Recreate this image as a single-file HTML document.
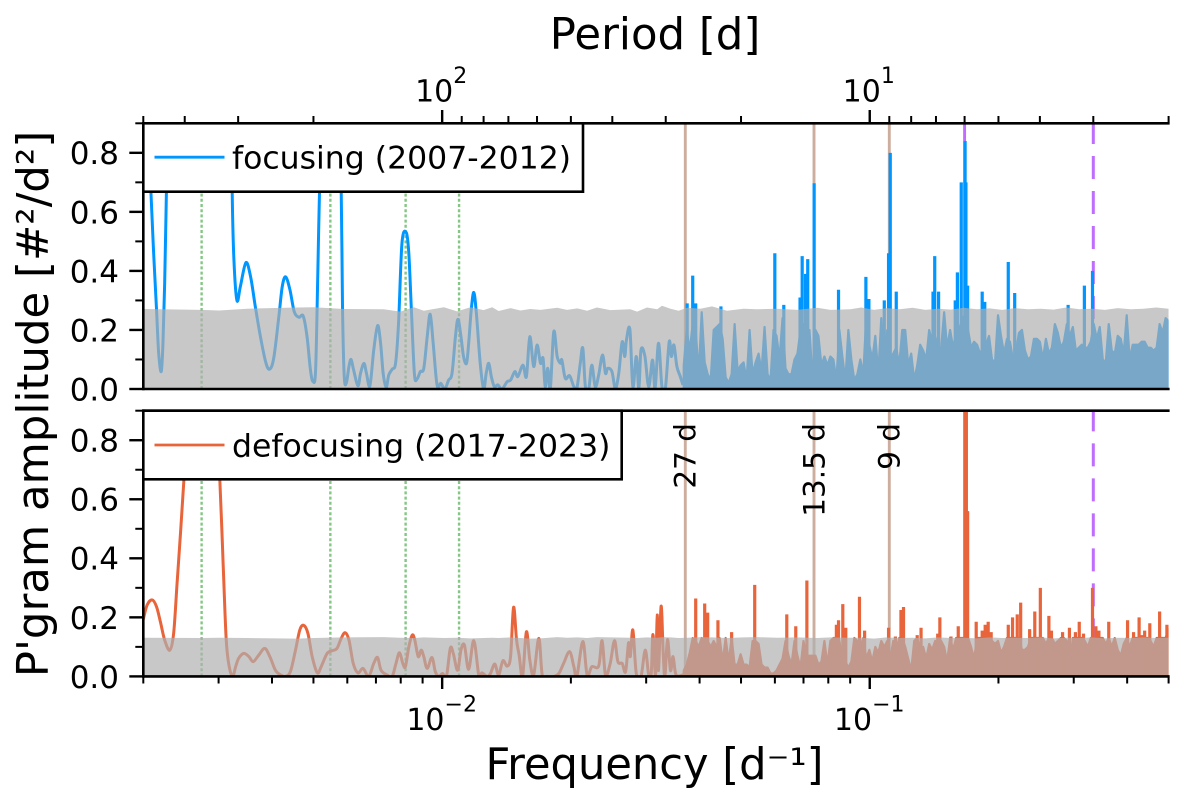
<!DOCTYPE html>
<html lang="en">
<head>
<meta charset="utf-8">
<title>Periodogram</title>
<style>
html,body{margin:0;padding:0;background:#fff;}
svg{display:block;font-family:"DejaVu Sans","Liberation Sans",sans-serif;}
</style>
</head>
<body>
<svg id="chart" xmlns="http://www.w3.org/2000/svg" width="1200" height="800" viewBox="0 0 1200 800">
  <defs>
    <clipPath id="clip-top"><rect x="143.3" y="123.3" width="1025.3" height="265.7"></rect></clipPath>
    <clipPath id="clip-bottom"><rect x="143.3" y="410.7" width="1025.3" height="265.7"></rect></clipPath>
  </defs>
  <rect width="1200" height="800" fill="#fff"></rect>
  <g id="top-panel"></g>
  <g id="bottom-panel"></g>
  <g id="axes"></g>

  <g>
    <rect x="143.3" y="123.3" width="439.7" height="68.4" fill="#fff" stroke="#000" stroke-width="2.6"></rect>
    <line x1="154.5" x2="224.5" y1="157.2" y2="157.2" stroke="#0096ff" stroke-width="2.8"></line>
    <text x="232" y="168.7" font-size="31.5">focusing (2007-2012)</text>
  </g>
  <g>
    <rect x="143.3" y="410.7" width="478.4" height="68.6" fill="#fff" stroke="#000" stroke-width="2.6"></rect>
    <line x1="154.5" x2="224.5" y1="445" y2="445" stroke="#e8643a" stroke-width="2.8"></line>
    <text x="232" y="456.7" font-size="31.5">defocusing (2017-2023)</text>
  </g>

  <text font-size="29.5" text-anchor="end" transform="translate(695.5,423) rotate(-90)">27 d</text>
  <text font-size="29.5" text-anchor="end" transform="translate(824.5,423) rotate(-90)">13.5 d</text>
  <text font-size="29.5" text-anchor="end" transform="translate(899.5,423) rotate(-90)">9 d</text>

  <text x="655" y="49" font-size="43.4" text-anchor="middle">Period [d]</text>
  <text x="654.5" y="779" font-size="43.2" text-anchor="middle">Frequency [d⁻¹]</text>
  <text font-size="43.4" text-anchor="middle" transform="translate(48,404) rotate(-90)">P'gram amplitude [#²/d²]</text>
</svg>
<script>
// ---- axis ticks ----
const yMajorTicks = [0, 0.2, 0.4, 0.6, 0.8];
const yMinorTicks = [0.1, 0.3, 0.5, 0.7, 0.9];
const yTickLabels = ['0.0', '0.2', '0.4', '0.6', '0.8'];
const freqMajorTicks = [0.01, 0.1];
const freqTickExponents = ['−2', '−1'];
const freqMinorTicks = [0.002,0.003,0.004,0.005,0.006,0.007,0.008,0.009,0.02,0.03,0.04,0.05,0.06,0.07,0.08,0.09,0.2,0.3,0.4,0.5];
const periodMajorTicks = [100, 10];
const periodTickExponents = ['2', '1'];
const periodMinorTicks = [500,400,300,200,90,80,70,60,50,40,30,20,9,8,7,6,5,4,3,2];

// ---- reference periods (days) ----
const annualPeriods = [365.25, 182.6, 121.75, 91.3];
const rotationPeriods = [27, 13.5, 9];
const solidHarmonicPeriods = [6];
const dashedHarmonicPeriods = [3];

// ---- focusing: resolved low-frequency curve ----
const focusingLowLogFreq = [-2.699,-2.681,-2.674,-2.668,-2.663,-2.657,-2.653,-2.649,-2.645,-2.641,-2.635,-2.573,-2.495,-2.491,-2.487,-2.480,-2.472,-2.459,-2.448,-2.437,-2.425,-2.413,-2.404,-2.394,-2.382,-2.374,-2.366,-2.356,-2.346,-2.335,-2.325,-2.316,-2.308,-2.302,-2.296,-2.291,-2.287,-2.281,-2.261,-2.242,-2.236,-2.233,-2.229,-2.224,-2.218,-2.213,-2.207,-2.197,-2.191,-2.183,-2.177,-2.169,-2.160,-2.151,-2.144,-2.138,-2.131,-2.125,-2.117,-2.109,-2.102,-2.094,-2.084,-2.078,-2.072,-2.065,-2.059,-2.051,-2.043,-2.035,-2.028,-2.021,-2.012,-2.003,-1.994,-1.985,-1.977,-1.969,-1.963,-1.956,-1.950,-1.943,-1.938,-1.932,-1.926,-1.920,-1.911,-1.903,-1.897,-1.891,-1.885,-1.878,-1.870,-1.860,-1.848,-1.840,-1.830,-1.823,-1.811,-1.803,-1.795,-1.786,-1.778,-1.770,-1.764,-1.759,-1.753,-1.747,-1.739,-1.731,-1.723,-1.720,-1.712,-1.702,-1.692,-1.685,-1.677,-1.671,-1.665,-1.657,-1.650,-1.642,-1.634,-1.625,-1.618,-1.613,-1.603,-1.595,-1.587,-1.579,-1.573,-1.569,-1.561,-1.554,-1.546,-1.540,-1.535,-1.526,-1.517,-1.508,-1.502,-1.494,-1.486,-1.478,-1.469,-1.464,-1.458,-1.451,-1.443,-1.437];
const focusingLowAmp = [1.30,0.663,0.437,0.268,0.121,0.059,0.155,0.358,0.663,0.946,1.20,1.50,1.20,0.663,0.437,0.300,0.347,0.428,0.380,0.279,0.177,0.093,0.067,0.104,0.245,0.347,0.380,0.336,0.262,0.243,0.247,0.177,0.064,0.025,0.064,0.380,0.660,0.950,1.40,0.950,0.660,0.268,0.042,0.021,0.076,0.100,0.064,0.011,0.053,0.087,0.053,0.011,0.132,0.215,0.155,0.053,0.005,0.047,0.067,0.087,0.223,0.494,0.530,0.460,0.268,0.053,0.033,0.059,0.070,0.177,0.253,0.155,0.014,0.019,0.000,0.030,0.053,0.177,0.236,0.177,0.110,0.087,0.155,0.268,0.327,0.256,0.087,0.000,0.053,0.087,0.042,0.008,0.014,0.000,0.025,0.030,0.059,0.042,0.081,0.042,0.177,0.076,0.149,0.087,0.104,0.008,0.070,0.002,0.194,0.110,0.087,0.098,0.036,0.045,0.008,0.002,0.087,0.138,0.008,0.002,0.081,0.008,0.047,0.115,0.053,0.070,0.059,0.002,0.053,0.160,0.110,0.166,0.202,0.008,0.110,0.002,0.132,0.112,0.008,0.098,0.002,0.155,0.008,0.002,0.160,0.110,0.149,0.076,0.042,0.014];

// ---- defocusing: resolved low-frequency curve ----
const defocusingLowLogFreq = [-2.699,-2.690,-2.678,-2.668,-2.659,-2.649,-2.637,-2.628,-2.620,-2.612,-2.604,-2.597,-2.581,-2.563,-2.542,-2.528,-2.520,-2.512,-2.505,-2.498,-2.490,-2.483,-2.476,-2.464,-2.452,-2.442,-2.429,-2.415,-2.403,-2.390,-2.378,-2.367,-2.355,-2.343,-2.333,-2.324,-2.314,-2.304,-2.292,-2.283,-2.269,-2.257,-2.246,-2.236,-2.227,-2.218,-2.208,-2.197,-2.185,-2.172,-2.160,-2.151,-2.143,-2.129,-2.117,-2.108,-2.100,-2.092,-2.086,-2.078,-2.070,-2.064,-2.056,-2.049,-2.043,-2.035,-2.024,-2.016,-2.008,-1.999,-1.990,-1.981,-1.974,-1.964,-1.956,-1.948,-1.938,-1.926,-1.914,-1.907,-1.895,-1.887,-1.877,-1.868,-1.858,-1.848,-1.840,-1.833,-1.826,-1.820,-1.812,-1.803,-1.795,-1.786,-1.774,-1.766,-1.755,-1.739,-1.727,-1.716,-1.702,-1.692,-1.685,-1.671,-1.661,-1.650,-1.634,-1.626,-1.618,-1.607,-1.597,-1.589,-1.579,-1.571,-1.564,-1.560,-1.554,-1.546,-1.535,-1.525,-1.517,-1.511,-1.507,-1.501,-1.497,-1.494,-1.488,-1.483,-1.479,-1.473,-1.466,-1.460,-1.453,-1.437];
const defocusingLowAmp = [0.193,0.242,0.259,0.236,0.185,0.123,0.089,0.146,0.315,0.485,0.666,0.820,0.990,1.050,0.990,0.820,0.666,0.372,0.123,0.033,0.000,0.033,0.061,0.078,0.067,0.050,0.072,0.095,0.067,0.021,0.005,0.000,0.016,0.089,0.157,0.173,0.146,0.067,0.012,0.033,0.078,0.087,0.095,0.129,0.148,0.123,0.044,0.012,0.027,0.000,0.044,0.064,0.021,0.005,0.000,0.044,0.080,0.044,0.033,0.100,0.140,0.123,0.067,0.089,0.067,0.027,0.064,0.016,0.000,0.010,0.000,0.095,0.078,0.021,0.090,0.106,0.024,0.121,0.000,0.012,0.000,0.010,0.042,0.005,0.053,0.035,0.067,0.234,0.123,0.072,0.000,0.151,0.055,0.005,0.129,0.005,0.000,0.000,0.010,0.044,0.084,0.033,0.000,0.118,0.005,0.033,0.035,0.121,0.005,0.044,0.121,0.050,0.044,0.016,0.114,0.067,0.157,0.010,0.000,0.089,0.005,0.010,0.142,0.005,0.208,0.020,0.238,0.077,0.000,0.125,0.020,0.067,0.005,0.005];

// ---- densely sampled high-frequency band (shared frequency samples) ----
const denseLogFreq = [
-1.435,-1.428,-1.421,-1.414,-1.407,-1.400,-1.393,-1.386,-1.379,-1.372,
-1.365,-1.358,-1.351,-1.344,-1.337,-1.330,-1.323,-1.316,-1.309,-1.302,
-1.295,-1.288,-1.281,-1.274,-1.267,-1.260,-1.253,-1.246,-1.239,-1.232,
-1.225,-1.218,-1.211,-1.204,-1.197,-1.190,-1.183,-1.176,-1.169,-1.162,
-1.155,-1.148,-1.141,-1.134,-1.127,-1.120,-1.113,-1.106,-1.099,-1.092,
-1.085,-1.078,-1.071,-1.064,-1.057,-1.050,-1.043,-1.036,-1.029,-1.022,
-1.015,-1.008,-1.001,-0.994,-0.987,-0.980,-0.973,-0.966,-0.959,-0.952,
-0.945,-0.938,-0.931,-0.924,-0.917,-0.910,-0.903,-0.896,-0.889,-0.882,
-0.875,-0.868,-0.861,-0.854,-0.847,-0.840,-0.833,-0.826,-0.819,-0.812,
-0.805,-0.798,-0.791,-0.784,-0.777,-0.770,-0.763,-0.756,-0.749,-0.742,
-0.735,-0.728,-0.721,-0.714,-0.707,-0.700,-0.693,-0.686,-0.679,-0.672,
-0.665,-0.658,-0.651,-0.644,-0.637,-0.630,-0.623,-0.616,-0.609,-0.602,
-0.595,-0.588,-0.581,-0.574,-0.567,-0.560,-0.553,-0.546,-0.539,-0.532,
-0.525,-0.518,-0.511,-0.504,-0.497,-0.490,-0.483,-0.476,-0.469,-0.462,
-0.455,-0.448,-0.441,-0.434,-0.427,-0.420,-0.413,-0.406,-0.399,-0.392,
-0.385,-0.378,-0.371,-0.364,-0.357,-0.350,-0.343,-0.336,-0.329,-0.322,
-0.315,-0.308,-0.301];
const focusingDenseAmp = [
0.08,0.20,0.13,0.22,0.20,0.05,0.26,0.09,0.05,0.03,
0.20,0.21,0.22,0.17,0.04,0.02,0.05,0.22,0.06,0.08,
0.09,0.03,0.20,0.05,0.09,0.12,0.06,0.21,0.05,0.03,
0.20,0.18,0.10,0.24,0.07,0.05,0.05,0.10,0.12,0.20,
0.22,0.20,0.20,0.04,0.20,0.18,0.08,0.11,0.08,0.11,
0.10,0.03,0.20,0.11,0.03,0.20,0.10,0.03,0.05,
0.10,0.05,0.25,0.15,0.10,0.18,0.05,0.24,0.10,0.20,0.10,0.12,0.14,0.08,0.20,0.20,0.08,0.12,0.03,0.08,0.15,0.13,0.10,0.20,0.16,0.18,0.14,0.14,0.26,0.14,0.20,0.14,0.19,0.20,0.24,0.25,0.20,0.14,0.16,0.15,0.12,0.14,0.15,0.18,0.10,0.09,0.25,0.18,0.12,0.17,0.16,0.10,0.13,0.19,0.20,0.13,0.10,0.11,0.17,0.17,0.16,0.10,0.17,0.12,0.14,0.22,0.19,0.14,0.16,0.22,0.18,0.21,0.13,0.14,0.15,0.14,0.14,0.16,0.22,0.17,0.21,0.10,0.09,0.22,0.13,0.12,0.18,0.17,0.12,0.25,0.10,0.15,0.15,0.15,0.16,0.16,0.14,0.14,0.13,0.14,0.22,0.19,0.24,0.23];
const defocusingDenseAmp = [
0.02,0.04,0.08,0.13,0.12,0.10,0.13,0.11,0.12,0.10,
0.12,0.10,0.13,0.05,0.13,0.05,0.13,0.04,0.04,0.075,
0.04,0.04,0.03,0.12,0.12,0.11,0.04,0.03,0.03,0.01,
0.01,0.02,0.04,0.06,0.12,0.07,0.04,0.12,0.07,0.03,
0.12,0.07,0.07,0.07,0.07,0.04,0.05,0.12,0.04,0.12,
0.13,0.13,0.12,0.06,0.05,0.03,0.05,0.13,0.12,
0.10,0.13,0.06,0.09,0.05,0.10,0.08,0.12,0.10,0.12,0.06,0.12,0.09,0.13,0.13,0.10,0.06,0.02,0.12,0.13,0.09,0.10,0.06,0.11,0.09,0.12,0.12,0.12,0.10,0.05,0.13,0.09,0.13,0.13,0.13,0.13,0.13,0.10,0.06,0.13,0.13,0.13,0.13,0.13,0.12,0.11,0.12,0.08,0.10,0.13,0.13,0.13,0.13,0.13,0.09,0.09,0.10,0.13,0.13,0.13,0.13,0.13,0.11,0.13,0.13,0.11,0.12,0.13,0.13,0.12,0.04,0.13,0.13,0.13,0.13,0.12,0.10,0.13,0.13,0.13,0.13,0.13,0.11,0.13,0.10,0.13,0.09,0.07,0.11,0.13,0.10,0.13,0.13,0.13,0.13,0.13,0.13,0.12,0.10,0.13,0.13,0.13,0.13,0.16];

// ---- isolated peaks ----
const focusingPeakLogFreq = [-1.427,-1.414,-1.407,-1.348,-1.222,-1.201,-1.163,-1.158,-1.150,-1.145,-1.130,-1.073,-1.009,-1.002,-0.966,-0.956,-0.952,-0.938,-0.852,-0.848,-0.839,-0.800,-0.795,-0.786,-0.777,-0.775,-0.771,-0.737,-0.731,-0.676,-0.661,-0.536,-0.498,-0.479];
const focusingPeakAmp = [0.29,0.384,0.29,0.28,0.46,0.285,0.31,0.45,0.39,0.44,0.697,0.336,0.38,0.305,0.30,0.46,0.80,0.33,0.33,0.45,0.33,0.30,0.395,0.70,0.84,0.70,0.35,0.33,0.295,0.43,0.325,0.285,0.35,0.40];
const defocusingPeakLogFreq = [-1.407,-1.386,-1.379,-1.355,-1.323,-1.269,-1.194,-1.173,-1.147,-1.078,-1.073,-1.063,-1.056,-1.024,-1.012,-0.956,-0.940,-0.927,-0.921,-0.889,-0.880,-0.841,-0.836,-0.810,-0.793,-0.777,-0.774,-0.771,-0.751,-0.737,-0.730,-0.723,-0.716,-0.676,-0.666,-0.655,-0.647,-0.626,-0.614,-0.601,-0.581,-0.575,-0.549,-0.533,-0.519,-0.510,-0.500,-0.479,-0.471,-0.464,-0.441,-0.397,-0.383,-0.370,-0.363,-0.357,-0.345,-0.322,-0.305];
const defocusingPeakAmp = [0.264,0.247,0.216,0.19,0.15,0.31,0.21,0.17,0.325,0.175,0.19,0.245,0.165,0.27,0.155,0.165,0.135,0.225,0.235,0.14,0.165,0.145,0.20,0.135,0.17,1.0,1.0,0.56,0.185,0.155,0.175,0.185,0.15,0.175,0.20,0.21,0.25,0.16,0.22,0.30,0.205,0.155,0.15,0.165,0.15,0.185,0.145,0.30,0.17,0.155,0.185,0.19,0.15,0.20,0.14,0.155,0.18,0.22,0.175];

// ---- significance threshold bands ----
const sigLogFreq = [-2.699,-2.563,-2.522,-2.456,-2.339,-2.300,-2.230,-2.137,-2.098,-2.066,-2.043,-1.996,-1.965,-1.934,-1.903,-1.883,-1.868,-1.840,-1.817,-1.794,-1.770,-1.731,-1.708,-1.684,-1.661,-1.638,-1.607,-1.560,-1.544,-1.521,-1.497,-1.486,-1.466,-1.447,-1.427,-1.396,-1.369,-1.334,-1.295,-1.264,-1.217,-1.170,-1.123,-1.092,-1.045,-1.02,-0.99,-0.96,-0.93,-0.90,-0.87,-0.84,-0.81,-0.78,-0.75,-0.72,-0.69,-0.66,-0.63,-0.60,-0.57,-0.54,-0.51,-0.48,-0.45,-0.42,-0.39,-0.36,-0.33,-0.301];
const focusingSigAmp = [0.271,0.268,0.266,0.272,0.276,0.277,0.271,0.270,0.262,0.277,0.265,0.277,0.263,0.277,0.267,0.277,0.264,0.274,0.266,0.271,0.268,0.275,0.268,0.273,0.265,0.276,0.267,0.270,0.262,0.276,0.270,0.282,0.272,0.265,0.275,0.272,0.280,0.265,0.272,0.270,0.272,0.268,0.275,0.268,0.270,0.276,0.268,0.274,0.270,0.275,0.268,0.272,0.269,0.275,0.270,0.273,0.268,0.274,0.270,0.272,0.269,0.276,0.270,0.272,0.268,0.274,0.270,0.272,0.276,0.272];
const defocusingSigAmp = [0.131,0.130,0.131,0.130,0.128,0.130,0.132,0.133,0.131,0.130,0.132,0.130,0.131,0.129,0.130,0.131,0.130,0.132,0.130,0.128,0.129,0.133,0.131,0.132,0.130,0.133,0.132,0.131,0.130,0.132,0.131,0.133,0.132,0.130,0.131,0.133,0.132,0.130,0.132,0.133,0.131,0.132,0.130,0.132,0.131,0.131,0.128,0.132,0.130,0.131,0.129,0.132,0.130,0.131,0.129,0.132,0.130,0.131,0.130,0.132,0.129,0.131,0.130,0.132,0.129,0.131,0.130,0.132,0.130,0.131];

// ---- axis functions ----
const SVGNS = 'http://www.w3.org/2000/svg';
const plotLeft = 143.3, plotRight = 1168.6;
const logMin = Math.log10(0.002), logMax = Math.log10(0.5);
const ampPerPanel = 0.9;
function xLog(l) { return plotLeft + (l - logMin) / (logMax - logMin) * (plotRight - plotLeft); }
function xFreq(f) { return xLog(Math.log10(f)); }
function xPeriod(p) { return xFreq(1 / p); }
function makeY(top, bottom) { return function (a) { return bottom - a / ampPerPanel * (bottom - top); }; }
const yTopPanel = makeY(123.3, 389);
const yBottomPanel = makeY(410.7, 676.4);

function el(tag, parent, attrs) {
  const e = document.createElementNS(SVGNS, tag);
  for (const k in attrs) e.setAttribute(k, attrs[k]);
  parent.appendChild(e);
  return e;
}

function smoothPath(xs, ys, y) {
  const px = xs.map(xLog), py = ys.map(y);
  let d = 'M' + px[0].toFixed(2) + ' ' + py[0].toFixed(2);
  for (let i = 0; i < px.length - 1; i++) {
    const a = Math.max(i - 1, 0), b = i + 1, c = Math.min(i + 2, px.length - 1);
    const c1x = px[i] + (px[b] - px[a]) / 6, c1y = py[i] + (py[b] - py[a]) / 6;
    const c2x = px[b] - (px[c] - px[i]) / 6, c2y = py[b] - (py[c] - py[i]) / 6;
    d += 'C' + c1x.toFixed(2) + ' ' + c1y.toFixed(2) + ' ' + c2x.toFixed(2) + ' ' + c2y.toFixed(2) + ' ' + px[b].toFixed(2) + ' ' + py[b].toFixed(2);
  }
  return d;
}
function spikePath(xs, ys, y) {
  let d = '';
  const n = Math.min(xs.length, ys.length);
  for (let i = 0; i < n; i++) {
    const x = xLog(xs[i]).toFixed(2);
    d += 'M' + x + ' ' + y(0).toFixed(2) + 'V' + y(ys[i]).toFixed(2);
  }
  return d;
}
function areaPath(xs, ys, y) {
  const n = Math.min(xs.length, ys.length);
  let d = 'M' + xLog(xs[0]).toFixed(2) + ' ' + y(0).toFixed(2);
  for (let i = 0; i < n; i++) {
    d += 'L' + xLog(xs[i]).toFixed(2) + ' ' + y(ys[i]).toFixed(2);
  }
  d += 'L' + xLog(xs[n - 1]).toFixed(2) + ' ' + y(0).toFixed(2) + 'Z';
  return d;
}

function drawVLines(group, periods, y, stroke, width, dash, name) {
  periods.forEach(function (p) {
    const attrs = { x1: xPeriod(p), x2: xPeriod(p), y1: y(0), y2: y(ampPerPanel), stroke: stroke, 'stroke-width': width };
    if (dash) attrs['stroke-dasharray'] = dash;
    const line = el('line', group, attrs);
    
    
  });
}

function drawPanel(parentId, clipId, y, lowX, lowY, denseY, peakX, peakY, sigY, color, prefix) {
  const parent = document.getElementById(parentId);
  const g = el('g', parent, { 'clip-path': 'url(#' + clipId + ')' });
  drawVLines(g, annualPeriods, y, '#84c784', 2.4, '3 2.2', 'annual-harmonic-line');
  drawVLines(g, rotationPeriods, y, '#cdae9e', 2.9, null, 'solar-rotation-line');
  drawVLines(g, solidHarmonicPeriods, y, '#bf6cff', 2.9, null, 'six-day-line');
  drawVLines(g, dashedHarmonicPeriods, y, '#bf6cff', 3, '23 12', 'three-day-line');

  const dense = el('path', g, { d: areaPath(denseLogFreq, denseY, y), stroke: color, 'stroke-width': 2.2, fill: color, 'stroke-linejoin': 'round' });
  
  

  const low = el('path', g, { d: smoothPath(lowX, lowY, y), stroke: color, 'stroke-width': 3, fill: 'none', 'stroke-linejoin': 'round' });
  
  

  const peaks = el('path', g, { d: spikePath(peakX, peakY, y), stroke: color, 'stroke-width': 3.2, fill: 'none' });
  
  

  let band = 'M' + xLog(sigLogFreq[0]).toFixed(2) + ' ' + y(0).toFixed(2);
  sigLogFreq.forEach(function (l, i) { band += 'L' + xLog(l).toFixed(2) + ' ' + y(sigY[i]).toFixed(2); });
  band += 'L' + xLog(sigLogFreq[sigLogFreq.length - 1]).toFixed(2) + ' ' + y(0).toFixed(2) + 'Z';
  const fill = el('path', g, { d: band, fill: 'rgb(176,176,176)', 'fill-opacity': 0.69 });
  
  
}

drawPanel('top-panel', 'clip-top', yTopPanel, focusingLowLogFreq, focusingLowAmp, focusingDenseAmp, focusingPeakLogFreq, focusingPeakAmp, focusingSigAmp, '#0096ff', 'focusing');
drawPanel('bottom-panel', 'clip-bottom', yBottomPanel, defocusingLowLogFreq, defocusingLowAmp, defocusingDenseAmp, defocusingPeakLogFreq, defocusingPeakAmp, defocusingSigAmp, '#e8643a', 'defocusing');

// ---- axes ----
const axes = document.getElementById('axes');
function tick(x1, y1, x2, y2, w, name) {
  const t = el('line', axes, { x1: x1, y1: y1, x2: x2, y2: y2, stroke: '#000', 'stroke-width': w });
  
  
}
function spineBox(top, bottom, name) {
  const r = el('rect', axes, { x: plotLeft, y: top, width: plotRight - plotLeft, height: bottom - top, fill: 'none', stroke: 'none' });
  
  
  const s1 = el('line', axes, { x1: plotLeft, x2: plotRight + 1, y1: top, y2: top, stroke: '#000', 'stroke-width': 2.6 });
  
  
  const s2 = el('line', axes, { x1: plotLeft, x2: plotRight + 1, y1: bottom, y2: bottom, stroke: '#000', 'stroke-width': 2.6 });
  
  
  const s3 = el('line', axes, { x1: plotLeft, x2: plotLeft, y1: top - 1.3, y2: bottom + 1.3, stroke: '#000', 'stroke-width': 2.6 });
  
  
}
spineBox(123.3, 389, 'focusing-axes-frame');
spineBox(410.7, 676.4, 'defocusing-axes-frame');

[yTopPanel, yBottomPanel].forEach(function (y) {
  yMajorTicks.forEach(function (v, i) {
    tick(plotLeft - 14, y(v), plotLeft, y(v), 2.4, 'y-major-tick');
    const label = el('text', axes, { x: 119, y: y(v) + 11.4, 'font-size': 31, 'text-anchor': 'end' });
    label.textContent = yTickLabels[i];
    
    
  });
  yMinorTicks.forEach(function (v) {
    tick(plotLeft - 8, y(v), plotLeft, y(v), 2, 'y-minor-tick');
  });
});

function powerLabel(x, baseY, exponent, name) {
  const label = el('text', axes, { x: x, y: baseY, 'font-size': 30, 'text-anchor': 'middle' });
  
  
  const base = el('tspan', label, {});
  base.textContent = '10';
  const sup = el('tspan', label, { dy: -18.5, 'font-size': 22 });
  sup.textContent = exponent;
}

freqMajorTicks.forEach(function (f, i) {
  tick(xFreq(f), 676.4, xFreq(f), 689, 2.4, 'x-major-tick');
  powerLabel(xFreq(f) - 0.5, 730, freqTickExponents[i], 'x-tick-label');
});
freqMinorTicks.forEach(function (f) {
  tick(xFreq(f), 676.4, xFreq(f), 683.5, 2, 'x-minor-tick');
});
periodMajorTicks.forEach(function (p, i) {
  tick(xPeriod(p), 110, xPeriod(p), 123.3, 2.4, 'period-major-tick');
  powerLabel(xPeriod(p) - 1, 101.7, periodTickExponents[i], 'period-tick-label');
});
periodMinorTicks.forEach(function (p) {
  tick(xPeriod(p), 116, xPeriod(p), 123.3, 2, 'period-minor-tick');
});
</script>
</body>
</html>
